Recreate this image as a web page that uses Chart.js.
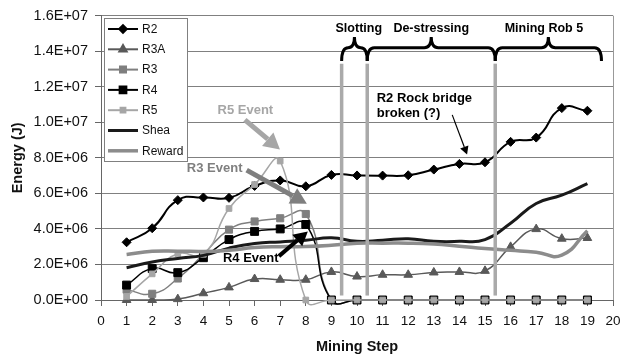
<!DOCTYPE html>
<html>
<head>
<meta charset="utf-8">
<script src="https://cdn.jsdelivr.net/npm/chart.js@4.4.1/dist/chart.umd.min.js"></script>
<style>
  html, body { margin: 0; padding: 0; background: #fff; }
  #wrap { width: 631px; height: 356px; position: relative; }
</style>
</head>
<body>
<div id="wrap"><canvas id="energyChart"></canvas></div>
<script>
// ============================================================
// DATA — energy per mining step (J)
// ============================================================
const steps  = [1, 2, 3, 4, 5, 6, 7, 8, 9, 10, 11, 12, 13, 14, 15, 16, 17, 18, 19];

const r2     = [3.25e6, 4.04e6, 5.62e6, 5.77e6, 5.75e6, 6.42e6, 6.73e6, 6.40e6, 7.04e6, 7.01e6,
                7.00e6, 7.02e6, 7.34e6, 7.66e6, 7.75e6, 8.90e6, 9.14e6, 10.8e6, 10.65e6];
const r3a    = [0, 0, 0.05e6, 0.38e6, 0.71e6, 1.18e6, 1.14e6, 1.14e6, 1.58e6, 1.32e6,
                1.42e6, 1.42e6, 1.55e6, 1.58e6, 1.64e6, 2.99e6, 3.99e6, 3.45e6, 3.49e6];
const r3     = [0.58e6, 0.35e6, 1.21e6, 2.57e6, 3.96e6, 4.42e6, 4.60e6, 4.84e6, 0, 0,
                0, 0, 0, 0, 0, 0, 0, 0, 0];
const r4     = [0.84e6, 1.77e6, 1.54e6, 2.38e6, 3.40e6, 3.86e6, 4.00e6, 4.25e6, 0, 0,
                0, 0, 0, 0, 0, 0, 0, 0, 0];
const r5     = [0.20e6, 1.47e6, 2.60e6, 2.57e6, 5.15e6, 6.50e6, 7.82e6, 0, 0, 0,
                0, 0, 0, 0, 0, 0, 0, 0, 0];
const shea   = [1.82e6, 2.14e6, 2.34e6, 2.51e6, 2.92e6, 3.18e6, 3.27e6, 3.36e6, 3.50e6, 3.30e6,
                3.36e6, 3.45e6, 3.30e6, 3.30e6, 3.40e6, 4.32e6, 5.43e6, 5.90e6, 6.55e6];
const reward = [2.56e6, 2.74e6, 2.75e6, 2.73e6, 2.80e6, 2.95e6, 3.00e6, 3.01e6, 3.08e6, 3.20e6,
                3.20e6, 3.20e6, 3.15e6, 3.03e6, 2.90e6, 2.80e6, 2.69e6, 2.53e6, 3.90e6];

const seriesNames = ['R2', 'R3A', 'R3', 'R4', 'R5', 'Shea', 'Reward'];

// Phases across the top (brace + label), in data units
const phaseNames  = ['Slotting', 'De-stressing', 'Mining Rob 5'];
const phaseBounds = [9.4, 10.4, 15.4, 19.55];
const phaseLabelX = [10.07, 12.9, 17.3];

// Event call-outs: label position, arrow start and arrow tip (x step, y energy)
const eventLabels = ['R5 Event', 'R3 Event', 'R4 Event'];
const eventAt     = [[5.64, 10.66e6], [4.44, 7.42e6], [5.85, 2.34e6]];
const eventFrom   = [[5.62, 10.14e6], [5.69, 7.31e6], [6.95, 2.47e6]];
const eventTo     = [[6.99, 8.47e6],  [8.04, 5.42e6], [8.08, 3.86e6]];

const noteLines = ['R2 Rock bridge', 'broken (?)'];

// ============================================================
const FONT = 'Arial, "Liberation Sans", sans-serif';
Chart.defaults.font.family = FONT;
Chart.defaults.color = '#111';

function sci(v) {
  if (v === 0) return '0.0E+00';
  const e = Math.floor(Math.log10(v) + 1e-9);
  const m = Math.round(v / Math.pow(10, e) * 10) / 10;
  return m.toFixed(1) + 'E+' + String(e).padStart(2, '0');
}

const toPoints = (vals) => steps.map((s, i) => ({ x: s, y: vals[i] }));

const styles = [
  { color: '#000000', width: 2,   point: 'rectRot',  radius: 4.5 },
  { color: '#595959', width: 1.5, point: 'triangle', radius: 5 },
  { color: '#7f7f7f', width: 1.5, point: 'rect',     radius: 5 },
  { color: '#000000', width: 1.5, point: 'rect',     radius: 5.6 },
  { color: '#a6a6a6', width: 1.5, point: 'rect',     radius: 4 },
  { color: '#1a1a1a', width: 3,   point: false,      radius: 0 },
  { color: '#8c8c8c', width: 3.5, point: false,      radius: 0 }
];
const allSeries = [r2, r3a, r3, r4, r5, shea, reward];

const datasets = allSeries.map((vals, i) => ({
  label: seriesNames[i],
  data: toPoints(vals),
  borderColor: styles[i].color,
  backgroundColor: styles[i].color,
  borderWidth: styles[i].width,
  pointStyle: styles[i].point,
  pointRadius: styles[i].radius,
  pointBorderWidth: 1,
  pointBackgroundColor: styles[i].color,
  pointBorderColor: styles[i].color,
  tension: 0.5,
  clip: false,
  order: allSeries.length - i   // later series drawn on top
}));

// ============================================================
// Helpers for the overlay drawing
// ============================================================
function px(chart, xy) {
  return [chart.scales.x.getPixelForValue(xy[0]), chart.scales.y.getPixelForValue(xy[1])];
}

function drawArrow(ctx, a, b, color, width, head) {
  const ang = Math.atan2(b[1] - a[1], b[0] - a[0]);
  const bx = b[0] - Math.cos(ang) * head;
  const by = b[1] - Math.sin(ang) * head;
  ctx.strokeStyle = color;
  ctx.fillStyle = color;
  ctx.lineWidth = width;
  ctx.beginPath();
  ctx.moveTo(a[0], a[1]);
  ctx.lineTo(bx, by);
  ctx.stroke();
  const hw = head * 0.55;
  ctx.beginPath();
  ctx.moveTo(b[0], b[1]);
  ctx.lineTo(bx + Math.sin(ang) * hw, by - Math.cos(ang) * hw);
  ctx.lineTo(bx - Math.sin(ang) * hw, by + Math.cos(ang) * hw);
  ctx.closePath();
  ctx.fill();
}

function drawBrace(ctx, x1, x2, yEnd, yBar, yTip) {
  const xm = (x1 + x2) / 2;
  const r = Math.min(7, (x2 - x1) / 4);
  ctx.beginPath();
  ctx.moveTo(x1, yEnd);
  ctx.quadraticCurveTo(x1, yBar, x1 + r, yBar);
  ctx.lineTo(xm - r, yBar);
  ctx.quadraticCurveTo(xm, yBar, xm, yTip);
  ctx.quadraticCurveTo(xm, yBar, xm + r, yBar);
  ctx.lineTo(x2 - r, yBar);
  ctx.quadraticCurveTo(x2, yBar, x2, yEnd);
  ctx.stroke();
}

const overlayPlugin = {
  id: 'overlay',
  beforeDatasetsDraw(chart) {
    const { ctx, chartArea: a } = chart;
    ctx.save();
    ctx.strokeStyle = '#999';
    ctx.lineWidth = 1;
    ctx.beginPath();
    ctx.moveTo(Math.round(a.right) + 0.5, a.top);
    ctx.lineTo(Math.round(a.right) + 0.5, a.bottom);
    ctx.stroke();
    ctx.restore();
  },
  afterDatasetsDraw(chart) {
    const { ctx } = chart;
    const ys = chart.scales.y;
    ctx.save();

    // vertical phase separators
    ctx.strokeStyle = '#aaaaaa';
    ctx.lineWidth = 3.5;
    phaseBounds.slice(0, 3).forEach((b) => {
      const x = chart.scales.x.getPixelForValue(b);
      ctx.beginPath();
      ctx.moveTo(x, ys.getPixelForValue(13.3e6));
      ctx.lineTo(x, ys.getPixelForValue(0.25e6));
      ctx.stroke();
    });

    // braces + phase labels
    ctx.strokeStyle = '#000';
    ctx.lineWidth = 3;
    const yEnd = ys.getPixelForValue(13.45e6);
    const yBar = ys.getPixelForValue(14.2e6);
    const yTip = ys.getPixelForValue(14.8e6);
    for (let i = 0; i < 3; i++) {
      drawBrace(ctx, chart.scales.x.getPixelForValue(phaseBounds[i]),
        chart.scales.x.getPixelForValue(phaseBounds[i + 1]), yEnd, yBar, yTip);
    }
    ctx.fillStyle = '#000';
    ctx.font = 'bold 12.5px ' + FONT;
    ctx.textAlign = 'center';
    ctx.textBaseline = 'middle';
    phaseNames.forEach((n, i) => {
      ctx.fillText(n, chart.scales.x.getPixelForValue(phaseLabelX[i]), ys.getPixelForValue(15.25e6));
    });

    // event call-outs
    const evColors = ['#a6a6a6', '#7f7f7f', '#000000'];
    const evWidth = [5, 5, 4];
    const evHead = [16, 16, 14];
    ctx.font = 'bold 13px ' + FONT;
    eventLabels.forEach((t, i) => {
      const p = px(chart, eventAt[i]);
      ctx.fillStyle = evColors[i];
      ctx.fillText(t, p[0], p[1]);
      drawArrow(ctx, px(chart, eventFrom[i]), px(chart, eventTo[i]), evColors[i], evWidth[i], evHead[i]);
    });

    // R2 note
    ctx.fillStyle = '#000';
    ctx.textAlign = 'left';
    const n1 = px(chart, [10.77, 11.36e6]);
    const n2 = px(chart, [10.77, 10.5e6]);
    ctx.fillText(noteLines[0], n1[0], n1[1]);
    ctx.fillText(noteLines[1], n2[0], n2[1]);
    drawArrow(ctx, px(chart, [13.72, 10.42e6]), px(chart, [14.3, 8.19e6]), '#000', 1.2, 8);

    ctx.restore();
  },
  afterDraw(chart) {
    // legend box inside the plot, top-left
    const { ctx, chartArea: a } = chart;
    const x0 = Math.round(a.left) + 3, y0 = Math.round(a.top) + 2, w = 83, h = 143;
    ctx.save();
    ctx.fillStyle = '#fff';
    ctx.fillRect(x0, y0, w, h);
    ctx.strokeStyle = '#808080';
    ctx.lineWidth = 1;
    ctx.strokeRect(x0 + 0.5, y0 + 0.5, w, h);
    ctx.font = '12px ' + FONT;
    ctx.textAlign = 'left';
    ctx.textBaseline = 'middle';
    chart.data.datasets.forEach((ds, i) => {
      const y = y0 + 11 + i * 20.3;
      ctx.strokeStyle = ds.borderColor;
      ctx.lineWidth = Math.max(2, ds.borderWidth);
      ctx.beginPath();
      ctx.moveTo(x0 + 4, y);
      ctx.lineTo(x0 + 34, y);
      ctx.stroke();
      if (ds.pointRadius > 0) {
        ctx.fillStyle = ds.pointBackgroundColor;
        ctx.strokeStyle = ds.pointBorderColor;
        Chart.helpers.drawPoint(ctx, {
          pointStyle: ds.pointStyle, radius: ds.pointRadius * 0.85, rotation: 0, borderWidth: 1
        }, x0 + 19, y);
      }
      ctx.fillStyle = '#111';
      ctx.fillText(ds.label, x0 + 38, y + 0.5);
    });
    ctx.restore();
  }
};

// ============================================================
new Chart(document.getElementById('energyChart'), {
  type: 'line',
  data: { datasets },
  options: {
    responsive: true,
    maintainAspectRatio: false,
    animation: false,
    layout: { padding: { top: 12, right: 18, left: 0, bottom: 0 } },
    elements: { line: { capBezierPoints: false } },
    plugins: { legend: { display: false }, tooltip: { enabled: false } },
    scales: {
      x: {
        type: 'linear',
        min: 0,
        max: 20,
        afterFit: (s) => { s.height = 56; },
        ticks: { stepSize: 1, autoSkip: false, maxRotation: 0, padding: 7, color: '#111',
                 font: { size: 13.5 } },
        grid: { drawOnChartArea: false, drawTicks: true, tickLength: 6, tickColor: '#666' },
        border: { color: '#666', width: 1 },
        title: { display: true, text: 'Mining Step', color: '#111',
                 font: { size: 14.5, weight: 'bold' }, padding: { top: 0, bottom: 0 } }
      },
      y: {
        min: 0,
        max: 1.6e7,
        afterFit: (s) => { s.width = 101; },
        ticks: { stepSize: 2e6, padding: 7, color: '#111', font: { size: 14.5 },
                 callback: (v) => sci(v) },
        grid: { color: '#808080', lineWidth: 1, tickLength: 6, tickColor: '#666' },
        border: { color: '#666', width: 1 },
        title: { display: true, text: 'Energy (J)', color: '#111',
                 font: { size: 14.5, weight: 'bold' }, padding: { top: 9, bottom: 0 } }
      }
    }
  },
  plugins: [overlayPlugin]
});
</script>
</body>
</html>
